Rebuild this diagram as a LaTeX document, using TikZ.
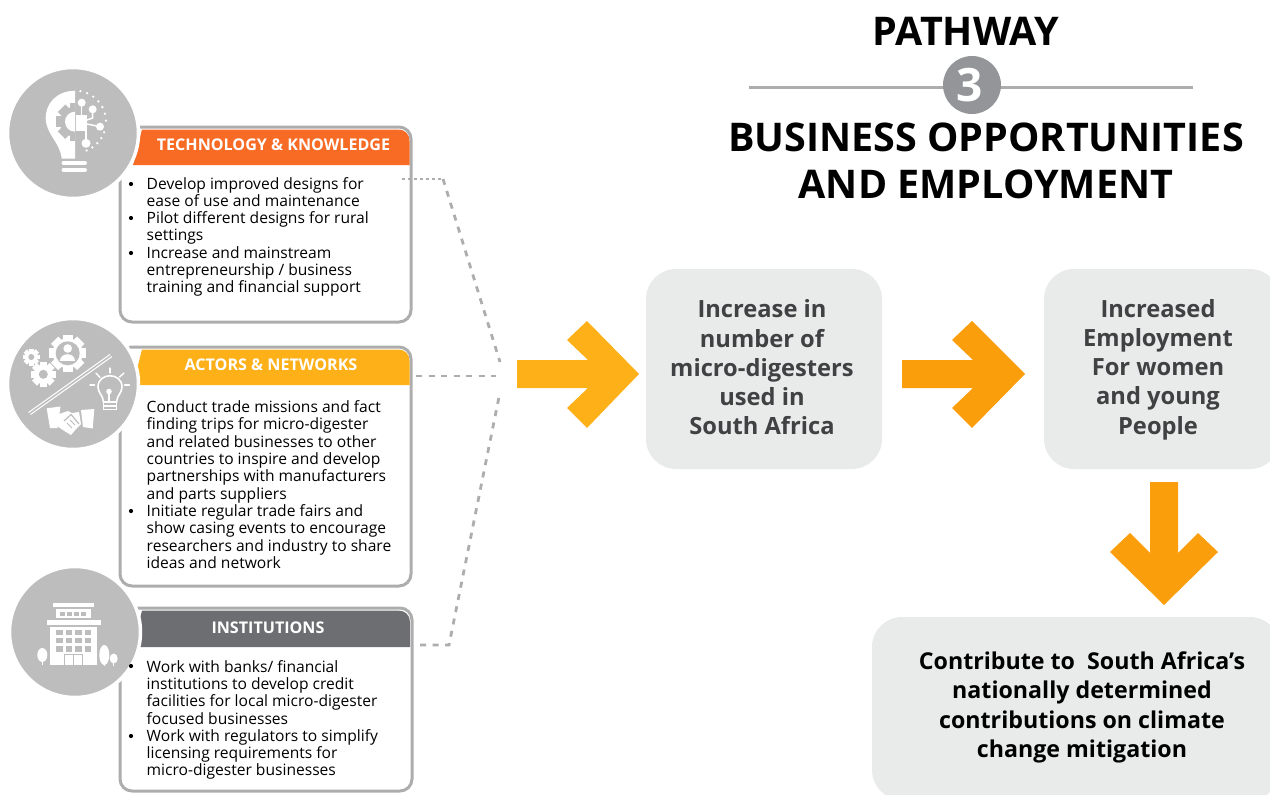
\documentclass[tikz,border=0pt]{standalone}
\usepackage{fontspec}
\usetikzlibrary{calc}
\setmainfont{Open Sans}
\definecolor{boxgray}{HTML}{E9EAEA}
\definecolor{edgegray}{HTML}{ADADAD}
\definecolor{circgray}{HTML}{BDBDBD}
\definecolor{orng}{HTML}{F76B25}
\definecolor{ambr}{HTML}{FDB018}
\definecolor{ambrb}{HTML}{FB9E0B}
\definecolor{slate}{HTML}{6D6E71}
\definecolor{numgray}{HTML}{939598}
\definecolor{darktxt}{HTML}{3F4142}
\tikzset{
 x=1pt,y=-1pt,
 panel/.style={draw=edgegray,line width=3pt,fill=white,rounded corners=12pt,inner sep=0pt},
 bodyline/.style={anchor=base west,inner sep=0pt,font=\fontsize{15.6}{17}\selectfont,text=black},
 headtxt/.style={inner sep=0pt,font=\fontsize{16.1}{17}\selectfont\bfseries,text=white},
 goalbox/.style={fill=boxgray,rounded corners=30pt,inner sep=0pt},
 goaltxt/.style={inner sep=0pt,font=\fontsize{23.7}{29.2}\selectfont\bfseries,align=center,text=darktxt},
 link/.style={draw=edgegray,line width=2.8pt,dash pattern=on 6pt off 6.5pt},
 linkdot/.style={draw=edgegray,line width=2.8pt,dash pattern=on 2.5pt off 3.5pt},
 disc/.style={circle,fill=circgray,draw=white,line width=3.5pt,minimum size=131pt,inner sep=0pt},
 wl/.style={draw=white,line cap=round},
}
% gear: x, y, body radius, tooth reach, hole radius, colour, hole colour
\newcommand{\gearat}[7]{%
 \foreach \a in {0,45,90,135}{\fill[#6,shift={(#1,#2)},rotate=\a] (-#4*0.28,-#4) rectangle (#4*0.28,#4);}
 \fill[#6] (#1,#2) circle[radius=#3];
 \fill[#7] (#1,#2) circle[radius=#5];
}
\begin{document}
\begin{tikzpicture}
\useasboundingbox (0,0) rectangle (1270,795);
\begin{scope}
\clip (0,0) rectangle (1270,795);
% panels
\node[panel,minimum width=291pt,minimum height=195pt] (p1) at (265.5,224.5) {};
\node[panel,minimum width=291pt,minimum height=239pt] (p2) at (265.5,466.5) {};
\node[panel,minimum width=292pt,minimum height=183pt] (p3) at (266,699.5) {};
\fill[orng] (142,129.5) -- (398,129.5) .. controls (405,129.5) and (409.5,134) .. (409.5,141) -- (409.5,165) -- (133,165) -- cycle;
\fill[ambr] (142,349.5) -- (398,349.5) .. controls (405,349.5) and (409.5,354) .. (409.5,361) -- (409.5,385) -- (133,385) -- cycle;
\fill[slate] (142,610.5) -- (398,610.5) .. controls (405,610.5) and (410,615) .. (410,622) -- (410,647) -- (133,647) -- cycle;
\node[disc] (d1) at (73,133) {};
\node[disc] (d2) at (73,384) {};
\node[disc] (d3) at (75,632) {};
% --- bulb icon
\fill[white] (75,90.7) .. controls (56,91) and (45.7,104) .. (45.7,118) .. controls (45.7,134) and (60,142) .. (61.7,158.5) -- (75,158.5) -- cycle;
\begin{scope}
\clip (45,90) rectangle (75,150);
\gearat{75}{121.7}{15}{19}{10}{circgray}{white}
\end{scope}
\fill[white] (76,115) rectangle (87,131);
\foreach \px/\py/\pr in {81.7/102.7/4,92.7/109.3/4,100/126.7/4,86/143.3/4.5}
 \fill[white] (\px,\py) circle[radius=\pr];
\draw[wl,line width=1.5pt] (81.7,102.7) -- (81.7,115);
\draw[wl,line width=1.5pt] (92.7,109.3) -- (92.7,118) -- (87,120);
\draw[wl,line width=1.5pt] (100,126.7) -- (87,124);
\draw[wl,line width=1.5pt] (86,143.3) -- (86,131);
\foreach \ang in {-80,-67,...,-2}
 \fill[white] ($(75,121.7)+(\ang:31)$) circle[radius=1.3];
\foreach \ang in {20,32,...,70}
 \fill[white] ($(75,121.7)+(\ang:31)$) circle[radius=1.3];
\draw[wl,line width=4pt] (63.5,163) -- (85,163);
\draw[wl,line width=4pt] (63.5,170) -- (85,170);
% --- actors icon
\gearat{31.3}{357}{6.5}{8.5}{3}{white}{circgray}
\gearat{43.3}{374.3}{9.5}{12.5}{4.5}{white}{circgray}
\gearat{67.7}{353.3}{15}{18.5}{12}{white}{circgray}
\fill[white] (67.7,348.5) circle[radius=4.3];
\fill[white] (60,360.5) .. controls (60,352) and (75.4,352) .. (75.4,360.5) -- cycle;
\draw[white,line width=1pt] (28.5,412.5) -- (110,354.5);
\draw[white,line width=1pt] (30.5,414.5) -- (112,356.5);
\draw[white,line width=1.6pt] (103.5,402) .. controls (103,395) and (98,393) .. (98,387) .. controls (98,372) and (122,372) .. (122,387) .. controls (122,393) and (117,395) .. (116.5,402) -- cycle;
\fill[white] (109,391.5) circle[radius=2.8];
\draw[white,line width=1.2pt] (109,394) -- (109,402);
\draw[white,line width=1.6pt] (103.5,402) rectangle (116.5,409.5);
\draw[white,line width=1.2pt] (103.5,406) -- (116.5,406);
\draw[wl,line width=1.4pt] (110,368) -- (110,373);
\draw[wl,line width=1.4pt] (96,373) -- (100,377.5);
\draw[wl,line width=1.4pt] (124,373) -- (119.5,377);
\draw[wl,line width=1.4pt] (90,385) -- (94.5,385);
\draw[wl,line width=1.4pt] (124.5,385) -- (129.5,385);
\fill[white] (46.7,408.3) -- (60.5,406.5) -- (57.5,428) -- (50,428) -- cycle;
\fill[white] (81,410) -- (94.3,409) -- (92.7,428.5) -- (83,427) -- cycle;
\fill[white] (59,414) -- (68,411) -- (72,413) -- (79,412) -- (81,424) -- (76,429) -- (71,435) -- (66,432) -- (57,426) -- cycle;
\draw[circgray,line width=1.2pt] (64,421) -- (71,414.5) -- (79,424);
\draw[circgray,line width=1pt] (72,428) -- (67,423);
\draw[circgray,line width=1pt] (75,425) -- (70,420);
% --- building icon
\fill[white] (52.7,602.7) rectangle (94,607.3);
\fill[white] (56,609.3) rectangle (90.7,618.3);
\foreach \wx in {59.5,66.5,73.5,80.5}
 \fill[circgray] (\wx,611.7) rectangle ++(5,4);
\fill[white] (46.7,620) rectangle (100.7,625);
\fill[white] (50,626.7) rectangle (96.7,665);
\foreach \wx in {56,65.5,75,84.5}
 \foreach \wy in {629.5,637.7,646}
  \fill[circgray] (\wx,\wy) rectangle ++(6.8,5.5);
\draw[circgray,line width=0.8pt] (64,654) -- (64,665) (73.3,654) -- (73.3,665) (82.7,654) -- (82.7,665);
\draw[circgray,line width=0.8pt] (64,654) -- (82.7,654);
\fill[white] (42.3,655) ellipse[x radius=5,y radius=7];
\draw[white,line width=1.3pt] (42.3,655) -- (42.3,665);
\fill[white] (104.3,655) ellipse[x radius=5,y radius=10];
\draw[white,line width=1.5pt] (104.3,655) -- (104.3,665.5);
\fill[white] (113.7,658.5) ellipse[x radius=4,y radius=5];
\draw[white,line width=1.3pt] (113.7,658) -- (113.7,665.5);
% headers
\node[headtxt] (h1) at (273.5,145) {TECHNOLOGY \& KNOWLEDGE};
\node[headtxt] (h2) at (271,365) {ACTORS \& NETWORKS};
\node[headtxt] (h3) at (268,628) {INSTITUTIONS};
% body text
\foreach \t/\x/\y in {{Develop improved designs for}/146.5/189,{ease of use and maintenance}/146.5/206,{Pilot different designs for rural}/146.5/223,{settings}/146.5/240,{Increase and mainstream}/146.5/258,{entrepreneurship / business}/146.5/275,{training and financial support}/146.5/292,
{Conduct trade missions and fact}/146.5/412,{finding trips for micro-digester}/146.5/429,{and related businesses to other}/146.5/447,{countries to inspire and develop}/146.5/464,{partnerships with manufacturers}/146.5/481,{and parts suppliers}/146.5/499,{Initiate regular trade fairs and}/146.5/516,{show casing events to encourage}/146.5/533,{researchers and industry to share}/146.5/551,{ideas and network}/146.5/568,
{Work with banks/ financial}/146.5/672,{institutions to develop credit}/146.5/689,{facilities for local micro-digester}/146.5/706,{focused businesses}/146.5/724,{Work with regulators to simplify}/146.5/741,{licensing requirements for}/146.5/758,{micro-digester businesses}/146.5/775}
 {\node[bodyline] at (\x,\y) {\t};}
\foreach \x/\y in {131/184,131/218,131/253,131/511,131/666,131/736}
 \fill (\x,\y) circle[radius=2.1];
% connectors
\coordinate (a1) at (402,179); \coordinate (a2) at (443,179); \coordinate (a3) at (500,362);
\coordinate (b1) at (416,376); \coordinate (b2) at (496,376);
\coordinate (c1) at (420,645); \coordinate (c2) at (449,645); \coordinate (c3) at (500,392);
\draw[linkdot] (a1) -- (a2);
\draw[link] (a2) -- (a3);
\draw[link] (b1) -- (b2);
\draw[link] (c1) -- (c2) -- (c3);
% arrows
\fill[ambr] (517,360) -- (588,360) -- (567,340) -- (587,321) -- (639,374) -- (587,428) -- (567,408) -- (588,388) -- (517,388) -- cycle;
\fill[ambrb] (902,360) -- (973,360) -- (952,340) -- (972,321) -- (1025,374) -- (972,428) -- (952,408) -- (973,388) -- (902,388) -- cycle;
\fill[ambrb] (1150,482) -- (1178,482) -- (1178,553) -- (1198,533) -- (1218,552) -- (1164,605) -- (1110,552) -- (1130,533) -- (1150,553) -- cycle;
% goals
\node[goalbox,minimum width=236pt,minimum height=200pt] (b1box) at (764,369) {};
\node[goalbox,minimum width=236pt,minimum height=200pt] (b2box) at (1162,369) {};
\node[goalbox,minimum width=408pt,minimum height=183pt] (b3box) at (1076,708.5) {};
\node[goaltxt] (g1) at (762,367.5) {Increase in\\number of\\micro-digesters\\used in\\South Africa};
\node[goaltxt] (g2) at (1158,369.5) {Increased\\Employment\\For women\\and young\\People};
\node[goaltxt,text=black,font=\fontsize{23.2}{29.2}\selectfont\bfseries] (g3) at (1082,707.5) {Contribute to\ \ South Africa’s\\nationally determined\\contributions on climate\\change mitigation};
% title
\node[inner sep=0pt,font=\fontsize{39.5}{39.5}\selectfont\bfseries] (t1) at (966,31) {PATHWAY};
\draw[edgegray,line width=3pt] (749,87) -- (1193,87);
\node[circle,fill=numgray,minimum size=58pt,inner sep=0pt] (t2) at (972,85) {};
\node[inner sep=0pt,text=white,font=\fontsize{46}{46}\selectfont\bfseries] (t2n) at (970,85) {3};
\node[inner sep=0pt,font=\fontsize{39.5}{47.5}\selectfont\bfseries,align=center] (t3) at (986,161) {BUSINESS OPPORTUNITIES\\AND EMPLOYMENT};
\end{scope}
\end{tikzpicture}
\end{document}
